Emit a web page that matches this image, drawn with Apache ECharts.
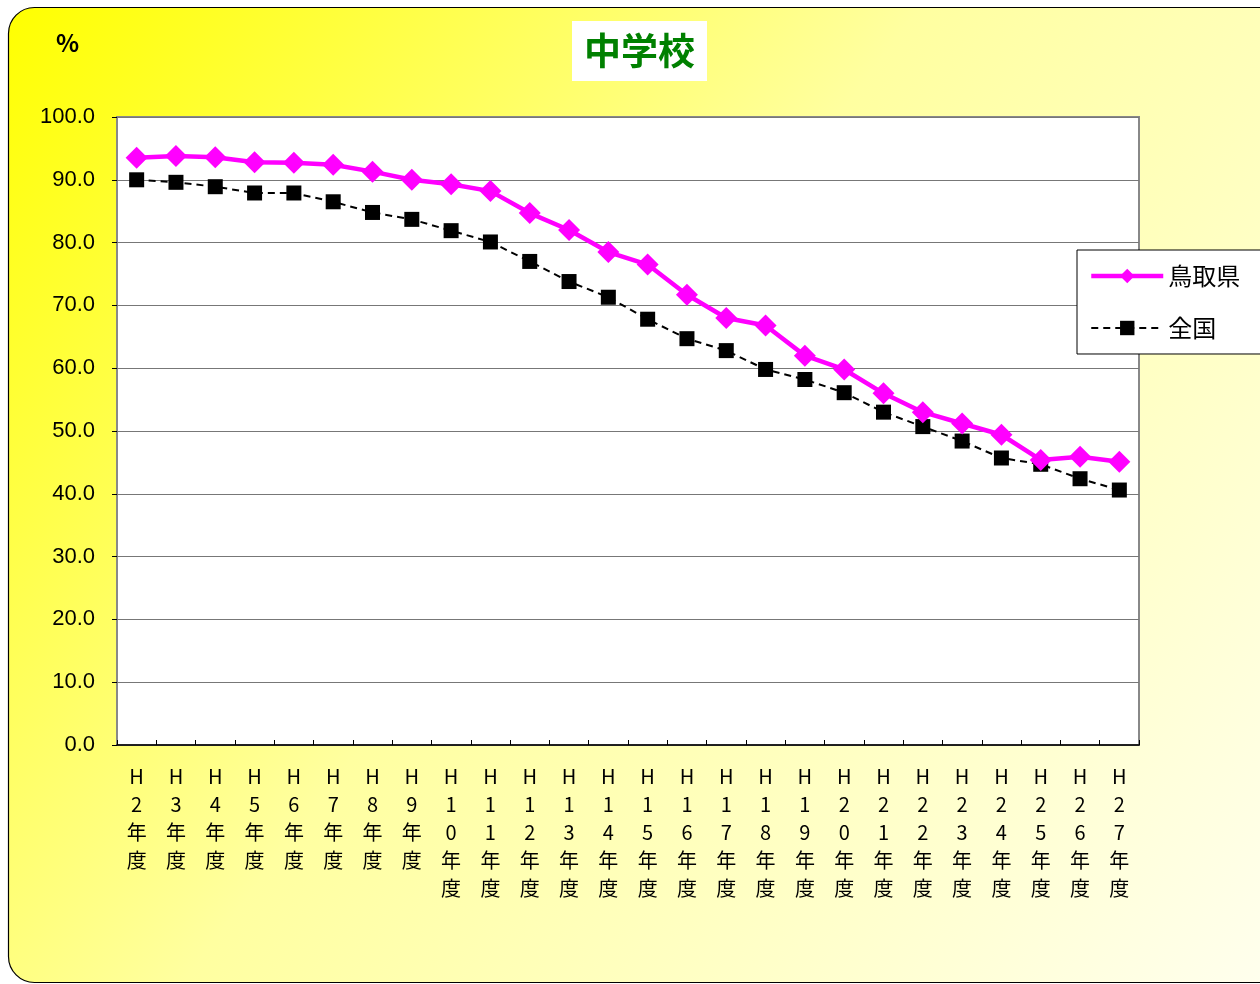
<!DOCTYPE html>
<html>
<head>
<meta charset="utf-8">
<style>html,body{margin:0;padding:0;background:#fff;}#c{width:1260px;height:984px;}</style>
<script src="https://cdn.jsdelivr.net/npm/echarts@6/dist/echarts.min.js"></script>
</head>
<body>
<div id="c"></div>
<script>
const categories = ['H2','H3','H4','H5','H6','H7','H8','H9','H10','H11','H12','H13','H14','H15','H16','H17','H18','H19','H20','H21','H22','H23','H24','H25','H26','H27'];
const tottori = [93.5,93.8,93.6,92.8,92.7,92.4,91.3,90.0,89.3,88.2,84.7,82.0,78.5,76.5,71.7,68.0,66.8,62.0,59.8,56.0,53.0,51.2,49.4,45.4,45.9,45.1];
const national = [90.0,89.6,88.9,87.9,87.9,86.5,84.8,83.7,81.9,80.1,77.0,73.8,71.3,67.8,64.7,62.8,59.8,58.2,56.1,53.0,50.7,48.4,45.7,44.7,42.4,40.6];
const seriesNames = ['鳥取県','全国'];
const titleText = '中学校';
const unitText = '%';

const chart = echarts.init(document.getElementById('c'), null, {renderer:'canvas'});
const jp = '"Noto Sans CJK JP", sans-serif';
chart.setOption({
  backgroundColor: '#ffffff',
  animation: false,
  graphic: [
    {type:'rect', z:-10, silent:true, shape:{x:8.5,y:7.5,width:1290,height:975,r:26},
     style:{fill:new echarts.graphic.LinearGradient(0,0,1,1,[
       {offset:0,color:'#ffff00'},{offset:0.45,color:'#ffffa0'},{offset:1,color:'#fffff0'}]),
       stroke:'#000',lineWidth:1.2}},
    {type:'text', left:56, top:31, style:{text:unitText, font:'bold 24px '+jp, fill:'#000'}}
  ],
  title: {
    text: titleText, left: 572, top: 21,
    backgroundColor:'#ffffff', padding:[8,12,9,12],
    textStyle:{color:'#008000', fontSize:37, fontWeight:'bold', fontFamily: jp, lineHeight:43}
  },
  legend: {
    left: 1077, top: 250, orient:'vertical',
    backgroundColor:'#ffffff', borderColor:'#000', borderWidth:1,
    padding:[14,40,14,12], itemGap:28, itemWidth:72, itemHeight:18,
    textStyle:{fontSize:24, color:'#000', fontFamily: jp},
    data: [
      {name:seriesNames[0], lineStyle:{width:4.5}},
      {name:seriesNames[1], lineStyle:{width:2}}
    ]
  },
  grid: {left:117, top:117, right:121, bottom:239, show:true, backgroundColor:'#ffffff', borderColor:'#888', borderWidth:2},
  xAxis: {
    type:'category', data:categories, boundaryGap:true,
    axisLine:{show:true, lineStyle:{color:'#000', width:1.5}},
    axisTick:{show:true, inside:true, length:5, lineStyle:{color:'#000'}},
    axisLabel:{interval:0, margin:17, fontSize:20, lineHeight:28, color:'#000', fontFamily: jp,
      formatter: v => (v + '年度').split('').join('\n')}
  },
  yAxis: {
    type:'value', min:0, max:100, interval:10,
    axisLine:{show:false},
    axisTick:{show:true, length:5, lineStyle:{color:'#000'}},
    splitLine:{show:true, lineStyle:{color:'#777', width:1.2}},
    axisLabel:{margin:22, fontSize:22, color:'#000', fontFamily:'"Liberation Sans", Arial, sans-serif',
      formatter: v => v.toFixed(1)}
  },
  series: [
    {name:seriesNames[0], type:'line', data:tottori, symbol:'diamond', symbolSize:22,
     itemStyle:{color:'#ff00ff'}, lineStyle:{color:'#ff00ff', width:4.5}, z:3},
    {name:seriesNames[1], type:'line', data:national, symbol:'rect', symbolSize:15,
     itemStyle:{color:'#000'}, lineStyle:{color:'#000', width:2, type:[7,5]}, z:2}
  ]
});
</script>
</body>
</html>
